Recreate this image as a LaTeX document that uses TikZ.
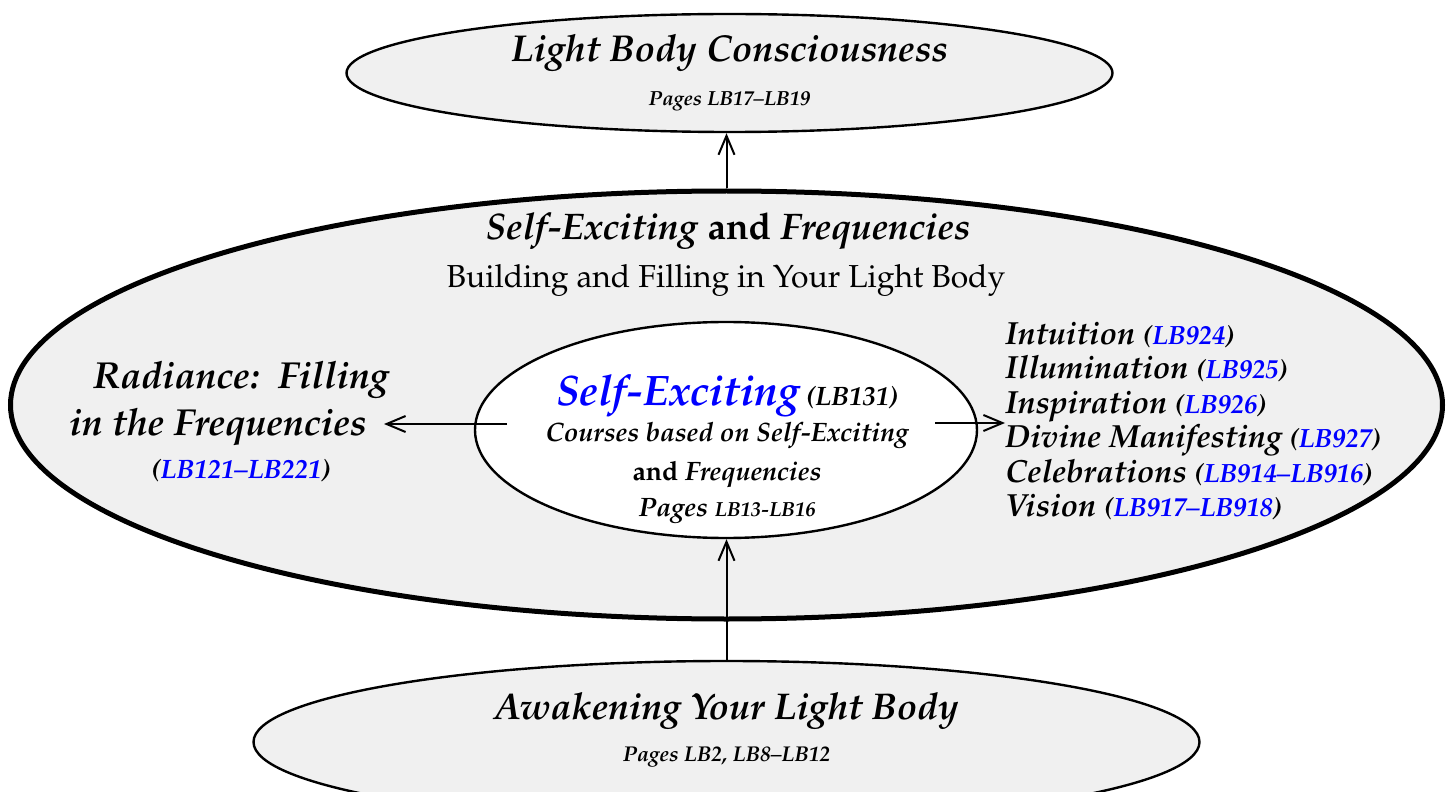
\documentclass[tikz,border=0pt]{standalone}
\usepackage[T1]{fontenc}
\usepackage{mathpazo}
\usepackage{xcolor}
\usetikzlibrary{arrows.meta,positioning,shapes.geometric}

\definecolor{pgblue}{RGB}{0,0,255}
\newcommand{\pgref}[1]{\textcolor{pgblue}{#1}}
\newcommand{\fsz}[2]{\fontsize{#1}{#2}\selectfont}

\begin{document}
\begin{tikzpicture}[x=0.5pt, y=-0.5pt,
  shell/.style={ellipse, draw=black, fill=gray!12, line width=1.2pt, inner sep=0pt},
  outer/.style={ellipse, draw=black, fill=gray!12, line width=2.5pt, inner sep=0pt,
    minimum width=716pt, minimum height=214pt},
  core/.style={ellipse, draw=black, fill=white, line width=1.2pt, inner sep=0pt,
    minimum width=251pt, minimum height=108pt},
  link/.style={-{Straight Barb[length=9.5pt, width=8pt, line width=1pt]}, line width=1pt},
  txt/.style={inner sep=0pt, align=center, font=\bfseries\itshape}
]
\useasboundingbox (0,0) rectangle (1453,792);
% bottom and top rings
\node[shell, minimum width=473pt, minimum height=81pt] (awake) at (726.5,742) {};
\node[shell, minimum width=383pt, minimum height=59pt, align=center,
  font=\bfseries\itshape\fsz{10}{22}] (lbc) at (729.5,73)
  {{\fsz{18.7}{22}Light Body Consciousness}\\{\fsz{10.2}{12}Pages LB17--LB19}};
\node[txt, font=\bfseries\itshape\fsz{10}{21}] (awaketxt) at (726.5,730)
  {{\fsz{18.6}{21}Awakening Your Light Body}\\{\fsz{10.7}{12}Pages LB2, LB8--LB12}};
% big ring
\node[outer] (frq) at (726.5,405) {};
\node[anchor=base, inner sep=0pt, font=\fsz{18.5}{22}] (head) at (728,240)
  {\textbf{\textit{Self-Exciting} and \textit{Frequencies}}};
\node[anchor=base, inner sep=0pt, font=\fsz{15.9}{19}] (sub) at (726,287)
  {Building and Filling in Your Light Body};
% centre
\node[core] (self) at (726,430) {};
\node[txt, font=\bfseries\itshape\fsz{13.3}{18}] (selftxt) at (727,450)
  {{\fsz{21.3}{24}\pgref{Self-Exciting}} {\fsz{13.3}{16}(LB131)}\\
   Courses based on Self-Exciting\\[1.5pt]
   {\upshape and} Frequencies\\
   Pages {\fsz{10.2}{12}LB13-LB16}};
% left side
\node[txt, font=\bfseries\itshape\fsz{18.8}{23.5}] (rad) at (241,422)
  {Radiance:~~Filling\\
   in the Frequencies\kern23pt\\[-2pt]
   {\fsz{13.3}{15}(\pgref{LB121--LB221})}};
% right side
\node[txt, align=left, anchor=west, font=\bfseries\itshape\fsz{16}{17.25}] (list) at (1005,421)
  {Intuition {\fsz{13.2}{15}(\pgref{LB924})}\\
   Illumination {\fsz{13.2}{15}(\pgref{LB925})}\\
   Inspiration {\fsz{13.2}{15}(\pgref{LB926})}\\
   Divine Manifesting {\fsz{13.2}{15}(\pgref{LB927})}\\
   Celebrations {\fsz{13.2}{15}(\pgref{LB914--LB916})}\\
   Vision {\fsz{13.2}{15}(\pgref{LB917--LB918})}};
% arrows
\coordinate (lfrom) at (507,424);
\coordinate (lto) at (384,424);
\coordinate (rfrom) at (935,423);
\draw[link] (frq.north) -- (frq.north |- lbc.south);
\draw[link] (awake.north) -- (awake.north |- self.south);
\draw[link] (lfrom) -- (lto);
\draw[link] (rfrom) -- (rfrom -| list.west);
\end{tikzpicture}
\end{document}
